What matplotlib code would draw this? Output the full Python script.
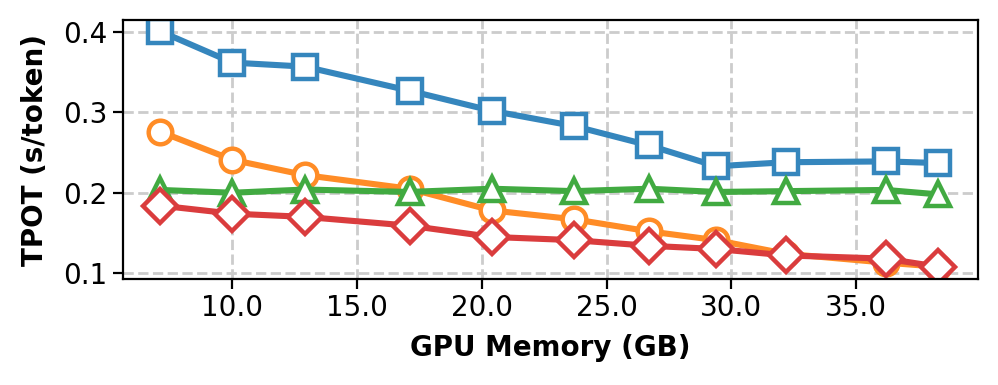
import numpy as np
import matplotlib.pyplot as plt
from matplotlib.ticker import FormatStrFormatter

# GPU memory (GB) on x axis
gpu_mem = [7.1, 10.0, 12.9, 17.1, 20.4, 23.7, 26.7, 29.4, 32.2, 36.2, 38.3]

# TPOT (s/token) for each series
tpot_blue = [0.401, 0.362, 0.357, 0.327, 0.302, 0.283, 0.259, 0.233, 0.238, 0.239, 0.237]
tpot_orange = [0.276, 0.241, 0.222, 0.205, 0.178, 0.167, 0.152, 0.141, 0.124, 0.113, 0.108]
tpot_green = [0.2035, 0.200, 0.204, 0.201, 0.205, 0.202, 0.205, 0.201, 0.202, 0.2035, 0.198]
tpot_red = [0.184, 0.174, 0.170, 0.159, 0.145, 0.141, 0.134, 0.130, 0.122, 0.118, 0.108]

series = [
    (tpot_blue, "#3586bd", "s"),
    (tpot_orange, "#ff8c26", "o"),
    (tpot_green, "#41aa41", "^"),
    (tpot_red, "#da3c3d", "D"),
]

fig, ax = plt.subplots(figsize=(4.99, 1.925), dpi=200)

for vals, color, marker in series:
    ax.plot(gpu_mem, vals, color=color, marker=marker, lw=2.2, markersize=8.5,
            markerfacecolor="white", markeredgewidth=1.6)

ax.set_xlim(5.6, 39.9)
ax.set_ylim(0.0925, 0.415)
ax.set_xticks([10, 15, 20, 25, 30, 35])
ax.set_yticks([0.1, 0.2, 0.3, 0.4])
ax.xaxis.set_major_formatter(FormatStrFormatter("%.1f"))
ax.tick_params(labelsize=10, length=3.5, pad=2)
ax.grid(True, linestyle="--", color="#cccccc", linewidth=1.0)
ax.set_axisbelow(True)

ax.set_xlabel("GPU Memory (GB)", fontsize=10, fontweight="bold", labelpad=4)
ax.set_ylabel("TPOT (s/token)", fontsize=10, fontweight="bold", labelpad=5)

plt.subplots_adjust(left=0.123, right=0.98, top=0.948, bottom=0.275)
plt.savefig("out.png", dpi=200)
